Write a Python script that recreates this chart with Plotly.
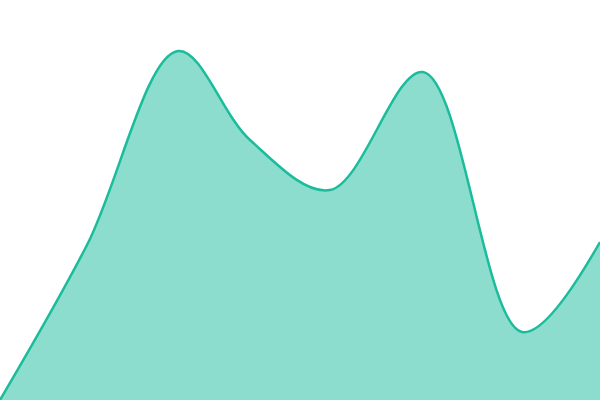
import plotly.graph_objects as go

x_vals = [0, 87, 178, 250, 330, 423, 522, 600]
y_vals = [0, 155, 349, 260, 210, 328, 68, 158]

fig = go.Figure()
fig.add_trace(go.Scatter(
    x=x_vals, y=y_vals, mode="lines", fill="tozeroy",
    line=dict(color="#1abc9c", width=2.5, shape="spline", smoothing=1),
    fillcolor="rgba(26,188,156,0.5)", hoverinfo="skip",
))
fig.update_layout(
    width=600, height=400, margin=dict(l=0, r=0, t=0, b=0),
    paper_bgcolor="white", plot_bgcolor="white", showlegend=False,
    xaxis=dict(visible=False, range=[0, 600], fixedrange=True),
    yaxis=dict(visible=False, range=[0, 400], fixedrange=True),
)
fig.write_html("out.html", config={"displayModeBar": False},
               post_script="document.body.style.margin='0';document.body.style.overflow='hidden';")
